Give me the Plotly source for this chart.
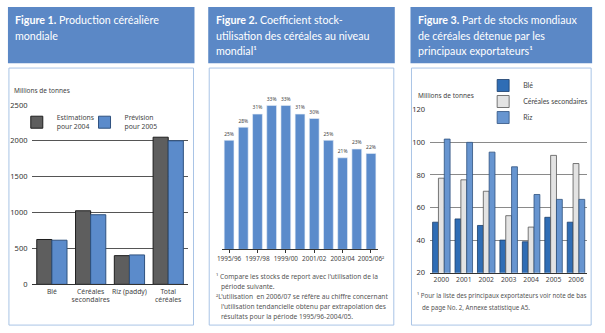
import plotly.graph_objects as go

W, H = 605, 333
def px(x): return x / W
def py(y): return 1 - y / H

FONT = "Noto Sans"
HFONT = "Lato"
HEADER = "#5B88C6"
BORDER = "#A9C4E6"
TXT = "#444444"

# ---------- Figure 1 data ----------
f1_categories = ["Blé", "Céréales<br>secondaires", "Riz (paddy)", "Total<br>céréales"]
f1_est_2004 = [625, 1025, 400, 2050]
f1_prev_2005 = [615, 970, 410, 2000]
f1_yticks = [0, 500, 1000, 1500, 2000, 2500]

# ---------- Figure 2 data ----------
f2_periods = ["1995/96", "1996/97", "1997/98", "1998/99", "1999/00", "2000/01",
              "2001/02", "2002/03", "2003/04", "2004/05", "2005/06"]
f2_ratio = [25, 28, 31, 33, 33, 31, 30, 25, 21, 23, 22]
f2_tickvals = ["1995/96", "1997/98", "1999/00", "2001/02", "2003/04", "2005/06"]
f2_ticktext = ["1995/96", "1997/98", "1999/00", "2001/02", "2003/04", "2005/06²"]

# ---------- Figure 3 data ----------
f3_years = ["2000", "2001", "2002", "2003", "2004", "2005", "2006"]
f3_ble = [51, 53, 49, 40, 39, 54, 51]
f3_secondaires = [78, 77, 70, 55, 48, 92, 87]
f3_riz = [102, 100, 94, 85, 68, 65, 65]
f3_yticks = [20, 40, 60, 80, 100, 120]

fig = go.Figure()

# Figure 1 bars
fig.add_trace(go.Bar(x=f1_categories, y=f1_est_2004, name="Estimations<br>pour 2004",
                     marker=dict(color="#5E5E5E", line=dict(color="#1E1E1E", width=1)),
                     xaxis="x", yaxis="y", legend="legend"))
fig.add_trace(go.Bar(x=f1_categories, y=f1_prev_2005, name="Prévision<br>pour 2005",
                     marker=dict(color="#5B8BCB", line=dict(color="#2F527F", width=1)),
                     xaxis="x", yaxis="y", legend="legend3"))

# Figure 2 bars
fig.add_trace(go.Bar(x=f2_periods, y=f2_ratio, showlegend=False, width=0.69,
                     marker=dict(color="#5B8BCB", line=dict(color="#E8EEF7", width=0.6)),
                     texttemplate="%{y}%", textposition="outside",
                     textfont=dict(size=6, color=TXT, family=FONT),
                     cliponaxis=False, xaxis="x2", yaxis="y2"))

# Figure 3 bars
fig.add_trace(go.Bar(x=f3_years, y=f3_ble, name="Blé",
                     marker=dict(color="#2F6DB5", line=dict(color="#1B3E6A", width=0.8)),
                     xaxis="x3", yaxis="y3", legend="legend2"))
fig.add_trace(go.Bar(x=f3_years, y=f3_secondaires, name="Céréales secondaires",
                     marker=dict(color="#E3E3E3", line=dict(color="#555555", width=0.8)),
                     xaxis="x3", yaxis="y3", legend="legend5"))
fig.add_trace(go.Bar(x=f3_years, y=f3_riz, name="Riz",
                     marker=dict(color="#6795D0", line=dict(color="#2F527F", width=0.8)),
                     xaxis="x3", yaxis="y3", legend="legend4"))

shapes = []
# headers
for x0, x1 in [(3, 193), (207, 397), (413, 598)]:
    shapes.append(dict(type="rect", xref="paper", yref="paper", layer="below",
                       x0=px(x0), x1=px(x1), y0=py(60), y1=py(2),
                       fillcolor=HEADER, line=dict(width=0)))
# white boxes
for x0, x1 in [(4, 192), (208, 396), (414, 597)]:
    shapes.append(dict(type="rect", xref="paper", yref="paper", layer="below",
                       x0=px(x0), x1=px(x1), y0=py(330), y1=py(65),
                       fillcolor="white", line=dict(color=BORDER, width=1)))

ann = []
def text(x, y, s, size=7, color=TXT, family=FONT, xanchor="left", yanchor="middle"):
    ann.append(dict(xref="paper", yref="paper", x=px(x), y=py(y), text=s,
                    showarrow=False, xanchor=xanchor, yanchor=yanchor,
                    font=dict(family=family, size=size, color=color)))

HS = 10.7
# header texts
text(8, 15, "<b>Figure 1.</b> Production céréalière", HS, "white", HFONT)
text(8, 31, "mondiale", HS, "white", HFONT)
text(213, 15, "<b>Figure 2.</b> Coefficient stock-", HS, "white", HFONT)
text(213, 31, "utilisation des céréales au niveau", HS, "white", HFONT)
text(213, 47, "mondial¹", HS, "white", HFONT)
text(419, 15, "<b>Figure 3.</b> Part de stocks mondiaux", HS, "white", HFONT)
text(419, 31, "de céréales détenue par les", HS, "white", HFONT)
text(419, 47, "principaux exportateurs¹", HS, "white", HFONT)

# axis titles
text(7, 88, "Millions de tonnes", 6.5)
text(419, 93, "Millions de tonnes", 6.5)

# footnotes
FC = "#555555"
text(213, 280, "¹ Compare les stocks de report avec l'utilisation de la", 6.6, FC)
text(218, 290, "période suivante.", 6.6, FC)
text(213, 301, "²L'utilisation  en 2006/07 se réfère au chiffre concernant", 6.6, FC)
text(218, 311, "l'utilisation tendancielle obtenu par extrapolation des", 6.6, FC)
text(218, 321, "résultats pour la période 1995/96-2004/05.", 6.6, FC)
text(418, 300, "¹ Pour la liste des principaux exportateurs voir note de bas", 6.2, FC)
text(423, 312, "de page No. 2, Annexe statistique A5.", 6.2, FC)

tickfont = dict(family=FONT, size=6.8, color=TXT)

def leg(x, yc, bg="rgba(0,0,0,0)", size=6.8, family=FONT):
    return dict(x=px(x), y=py(yc), xanchor="left", yanchor="middle",
                orientation="v", bgcolor=bg,
                font=dict(family=family, size=size, color=TXT),
                itemwidth=30, borderwidth=0)

fig.update_layout(
    width=W, height=H, margin=dict(l=0, r=0, t=0, b=0),
    paper_bgcolor="white", plot_bgcolor="rgba(0,0,0,0)",
    font=dict(family=FONT, color=TXT),
    barmode="group",
    shapes=shapes, annotations=ann,
    xaxis=dict(domain=[px(28), px(186)], anchor="y", tickfont=tickfont, tickangle=0,
               showline=True, linecolor="#333333", linewidth=1, ticks="",
               showgrid=False),
    yaxis=dict(domain=[py(288), py(103)], anchor="x", range=[0, 2500],
               tickvals=f1_yticks, tickfont=dict(family=FONT, size=7.5, color="#333"),
               showgrid=True, gridcolor="#555555", gridwidth=1, zeroline=False,
               ticks="", ticklabelstandoff=4),
    xaxis2=dict(domain=[px(221), px(380)], anchor="y2",
                tickfont=dict(family=FONT, size=6.4, color=TXT),
                tickvals=f2_tickvals, ticktext=f2_ticktext, tickangle=0,
                showline=True, linecolor="#333333", linewidth=1,
                ticks="outside", ticklen=3, tickcolor="#333333", showgrid=False),
    yaxis2=dict(domain=[py(252), py(94.5)], anchor="x2", range=[0, 35],
                visible=False),
    xaxis3=dict(domain=[px(433), px(593)], anchor="y3", tickfont=tickfont, tickangle=0,
                showline=True, linecolor="#333333", linewidth=1, ticks="",
                showgrid=False),
    yaxis3=dict(domain=[py(276), py(108)], anchor="x3", range=[20, 120],
                tickvals=f3_yticks, tickfont=dict(family=FONT, size=7.5, color="#333"),
                showgrid=True, gridcolor="#8A8A8A", gridwidth=1, zeroline=False,
                ticks="", ticklabelstandoff=4),
    bargap=0.22, bargroupgap=0.0,
    legend=leg(12, 121),
    legend3=leg(81, 121),
    legend2=leg(487, 83, size=7, family="Lato"),
    legend4=leg(487, 116, size=7, family="Lato"),
    legend5=leg(487, 99.5, size=7, family="Lato"),
)

fig.write_html("out.html", post_script="document.body.style.margin='0';")
